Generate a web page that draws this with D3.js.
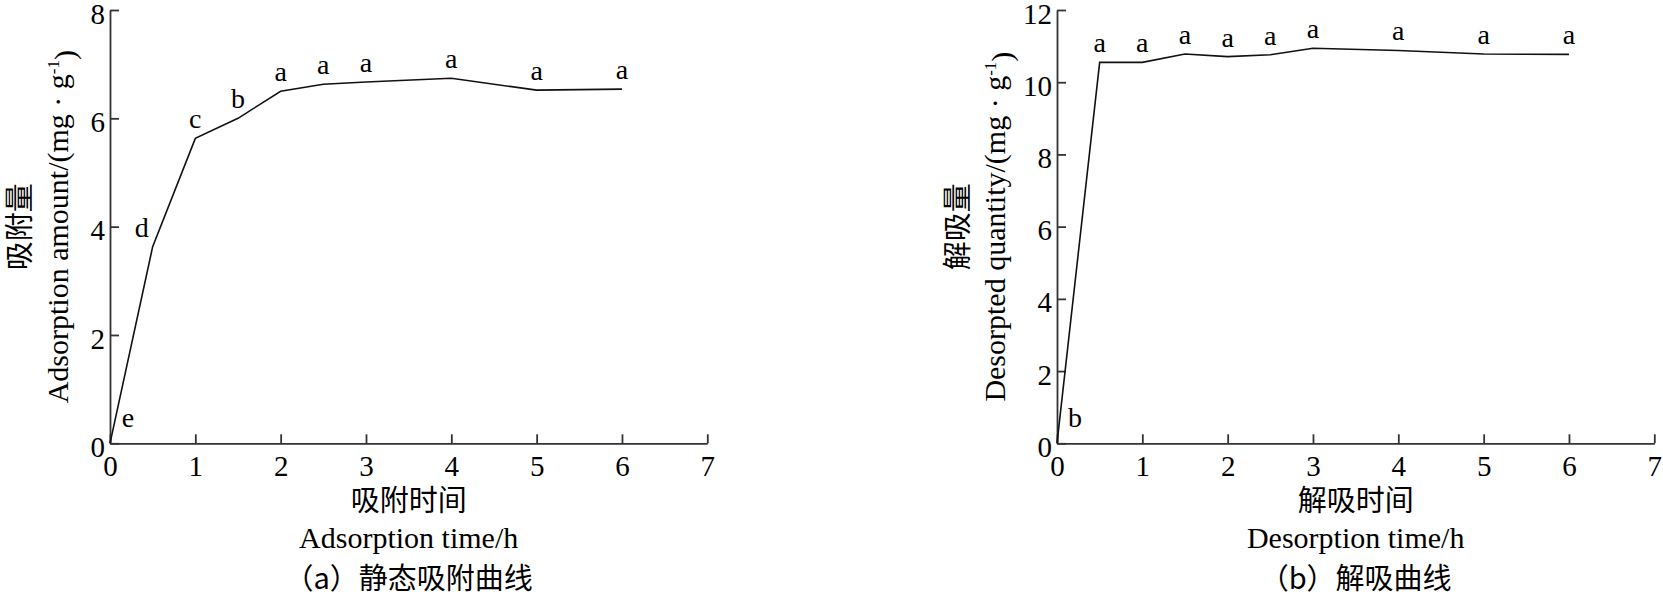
<!DOCTYPE html>
<html lang="zh-CN">
<head>
  <meta charset="UTF-8">
  <title>吸附与解吸曲线</title>
  <style>
    body { margin: 0; background: #fff; }
    svg { display: block; }
    .tick text { font-family: 'Liberation Serif', 'Times New Roman', serif; font-size: 29px; fill: #000; }
    .domain, .tick line { stroke: #333; stroke-width: 1.8; }
    .curve { fill: none; stroke: #111; stroke-width: 1.6; }
    .letter { font-family: 'Liberation Serif', 'Times New Roman', serif; font-size: 28px; text-anchor: middle; }
    .en { font-family: 'Liberation Serif', 'Times New Roman', serif; font-size: 30px; }
    .zh { font-family: 'Noto Sans CJK SC', sans-serif; font-size: 29px; }
  </style>
</head>
<body>
  <svg id="chart"></svg>

  <script src="https://d3js.org/d3.v7.min.js"></script>
  <script>
    // valores
    const timeA = [0, 0.5, 1, 1.5, 2, 2.5, 3, 4, 5, 6];
    const adsorption = [0, 3.63, 5.63, 6.0, 6.5, 6.63, 6.67, 6.74, 6.52, 6.54];
    const lettersA = ['e', 'd', 'c', 'b', 'a', 'a', 'a', 'a', 'a', 'a'];

    const timeB = [0, 0.5, 1, 1.5, 2, 2.5, 3, 4, 5, 6];
    const desorption = [0, 10.55, 10.55, 10.78, 10.71, 10.76, 10.94, 10.88, 10.78, 10.77];
    const lettersB = ['b', 'a', 'a', 'a', 'a', 'a', 'a', 'a', 'a', 'a'];

    const xTicks = [0, 1, 2, 3, 4, 5, 6, 7];
    const yTicksA = [0, 2, 4, 6, 8];
    const yTicksB = [0, 2, 4, 6, 8, 10, 12];

    const largura = 1663;
    const altura = 596;
    const svg = d3.select('#chart').attr('width', largura).attr('height', altura);

    const paineis = [
      {
        x0: 110, x: timeA, y: adsorption, letras: lettersA, yTicks: yTicksA,
        yZh: '吸附量', yEn: 'Desorpted', yEnBase: 'Adsorption amount/(mg · g',
        zhOff: -80, enOff: -42,
        xZh: '吸附时间', xEn: 'Adsorption time/h', legenda: '（a）静态吸附曲线'
      },
      {
        x0: 1057, x: timeB, y: desorption, letras: lettersB, yTicks: yTicksB,
        yZh: '解吸量', yEnBase: 'Desorpted quantity/(mg · g',
        zhOff: -89, enOff: -52,
        xZh: '解吸时间', xEn: 'Desorption time/h', legenda: '（b）解吸曲线'
      }
    ];

    const topo = 10, base = 443.3, w = 597.3;

    paineis.forEach(p => {
      const g = svg.append('g');
      const x = d3.scaleLinear().domain([0, 7]).range([p.x0, p.x0 + w]);
      const y = d3.scaleLinear().domain([0, d3.max(p.yTicks)]).range([base, topo]);

      g.append('g')
        .attr('transform', `translate(0,${base})`)
        .call(d3.axisBottom(x).tickValues(xTicks).tickFormat(d3.format('d'))
          .tickSize(-9).tickSizeOuter(0).tickPadding(12));

      const ay = g.append('g')
        .attr('transform', `translate(${p.x0},0)`)
        .call(d3.axisLeft(y).tickValues(p.yTicks).tickFormat(d3.format('d'))
          .tickSize(-9).tickSizeOuter(0).tickPadding(5));
      ay.selectAll('.tick text').attr('dy', '0.45em');

      const pts = p.x.map((t, i) => [t, p.y[i]]);
      const linha = d3.line().x(d => x(d[0])).y(d => y(d[1]));
      g.append('path').datum(pts).attr('class', 'curve').attr('d', linha);

      // letras de significância
      g.selectAll('.letter')
        .data(pts)
        .enter()
        .append('text')
        .attr('class', 'letter')
        .text((d, i) => p.letras[i])
        .attr('x', (d, i) => {
          if (i === 0) return x(d[0]) + 18;
          const prox = pts[i + 1];
          if (prox && (y(d[1]) - y(prox[1])) / (x(prox[0]) - x(d[0])) > 1.5) return x(d[0]) - 11;
          return x(d[0]);
        })
        .attr('y', (d, i) => {
          if (i === 0) return y(d[1]) - 16;
          return y(d[1]) - 10;
        });

      // título do eixo y
      const cy = (topo + base) / 2;
      g.append('text').attr('class', 'zh')
        .attr('transform', `translate(${p.x0 + p.zhOff},${cy}) rotate(-90)`)
        .attr('text-anchor', 'middle')
        .text(p.yZh);
      const en = g.append('text').attr('class', 'en')
        .attr('transform', `translate(${p.x0 + p.enOff},${cy}) rotate(-90)`)
        .attr('text-anchor', 'middle');
      en.append('tspan').text(p.yEnBase);
      en.append('tspan').attr('dy', '-0.55em').attr('font-size', '17px').text('-1');
      en.append('tspan').attr('dy', '0.55em').text(')');

      // títulos do eixo x
      const cx = p.x0 + w / 2;
      g.append('text').attr('class', 'zh').attr('x', cx).attr('y', 511)
        .attr('text-anchor', 'middle').text(p.xZh);
      g.append('text').attr('class', 'en').attr('x', cx).attr('y', 548)
        .attr('text-anchor', 'middle').text(p.xEn);
      g.append('text').attr('class', 'zh').attr('x', cx).attr('y', 589)
        .attr('text-anchor', 'middle').text(p.legenda);
    });
  </script>
</body>
</html>
